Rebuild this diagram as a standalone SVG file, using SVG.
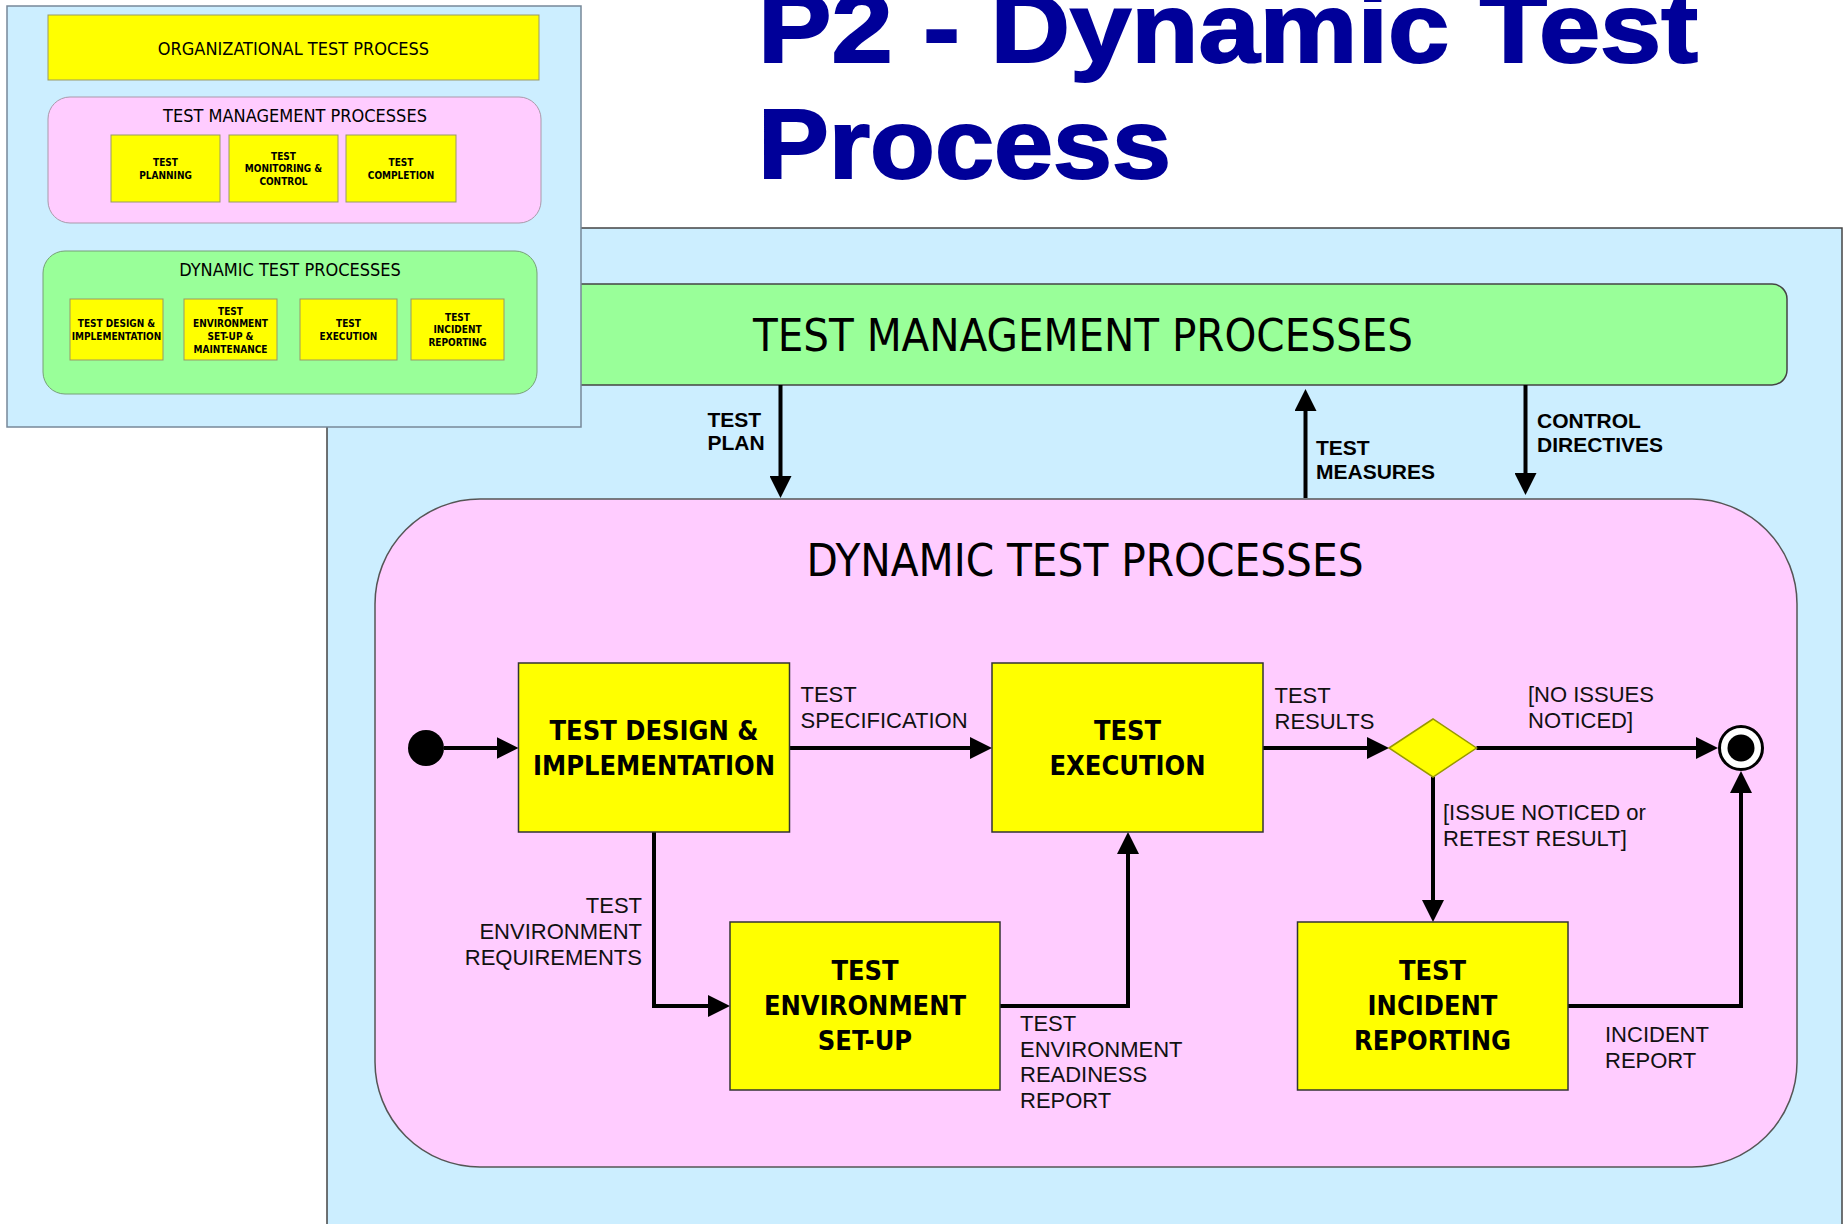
<svg xmlns="http://www.w3.org/2000/svg" width="1847" height="1224" viewBox="0 0 1847 1224">
<style>
.dv{font-family:"DejaVu Sans Condensed","DejaVu Sans",sans-serif;font-stretch:condensed;}
.nt{font-family:"DejaVu Sans Condensed","DejaVu Sans",sans-serif;font-stretch:condensed;font-weight:bold;font-size:27px;text-anchor:middle;fill:#000;}
.st{font-family:"DejaVu Sans Condensed","DejaVu Sans",sans-serif;font-stretch:condensed;font-weight:bold;font-size:10px;text-anchor:middle;fill:#000;}
.lb{font-family:"Liberation Sans",Arial,sans-serif;font-size:22px;fill:#111;}
.lbb{font-family:"Liberation Sans",Arial,sans-serif;font-size:21px;font-weight:bold;fill:#000;}
.box{fill:#ffff00;stroke:#333;stroke-width:1.5;}
.sbox{fill:#ffff00;stroke:#999966;stroke-width:1;}
.conn{fill:none;stroke:#000;stroke-width:4;}
</style>
<defs>
<marker id="ah" markerUnits="userSpaceOnUse" markerWidth="22" markerHeight="22" refX="16" refY="11" orient="auto">
<path d="M0,0 L22,11 L0,22 z" fill="#000"/>
</marker>
</defs>
<rect x="0" y="0" width="1847" height="1224" fill="#ffffff"/>

<g id="title">
<text x="758" y="62" font-family="Liberation Sans, Arial, sans-serif" font-weight="bold" font-size="98" fill="#000099" stroke="#000099" stroke-width="2" textLength="940" lengthAdjust="spacingAndGlyphs">P2 - Dynamic Test</text>
<text x="758" y="178" font-family="Liberation Sans, Arial, sans-serif" font-weight="bold" font-size="98" fill="#000099" stroke="#000099" stroke-width="2" textLength="413" lengthAdjust="spacingAndGlyphs">Process</text>
</g>

<g id="main-panel">
<rect x="327" y="228" width="1515" height="1010" fill="#cceeff" stroke="#444" stroke-width="1.5"/>
</g>

<g id="test-management-processes">
<rect x="520" y="284" width="1267" height="101" rx="15" ry="15" fill="#99ff99" stroke="#444" stroke-width="1.5"/>
<text class="dv" x="1083" y="351" font-size="45" text-anchor="middle" textLength="660" lengthAdjust="spacingAndGlyphs">TEST MANAGEMENT PROCESSES</text>
</g>

<g id="dynamic-test-processes">
<rect x="375" y="499" width="1422" height="668" rx="105" ry="105" fill="#ffccff" stroke="#555" stroke-width="1.5"/>
<text class="dv" x="1085" y="576" font-size="45" text-anchor="middle" textLength="557" lengthAdjust="spacingAndGlyphs">DYNAMIC TEST PROCESSES</text>
</g>

<g id="connectors">
<path class="conn" d="M780.5,385 V492" marker-end="url(#ah)"/>
<path class="conn" d="M1305.5,498 V395" marker-end="url(#ah)"/>
<path class="conn" d="M1525.5,385 V489" marker-end="url(#ah)"/>
<path class="conn" d="M444,748 H512.5" marker-end="url(#ah)"/>
<path class="conn" d="M789.5,748 H986" marker-end="url(#ah)"/>
<path class="conn" d="M1263,748 H1383" marker-end="url(#ah)"/>
<path class="conn" d="M1476.5,748 H1712" marker-end="url(#ah)"/>
<path class="conn" d="M1433,777 V916" marker-end="url(#ah)"/>
<path class="conn" d="M1568,1006 H1741 V777" marker-end="url(#ah)"/>
<path class="conn" d="M654,832 V1006 H724" marker-end="url(#ah)"/>
<path class="conn" d="M1000,1006 H1128 V838" marker-end="url(#ah)"/>
</g>

<g id="labels">
<text class="lbb" x="707.5" y="427">TEST</text>
<text class="lbb" x="707.5" y="450">PLAN</text>
<text class="lbb" x="1316" y="455">TEST</text>
<text class="lbb" x="1316" y="479">MEASURES</text>
<text class="lbb" x="1537" y="428">CONTROL</text>
<text class="lbb" x="1537" y="452">DIRECTIVES</text>
<text class="lb" x="800.5" y="702">TEST</text>
<text class="lb" x="800.5" y="728">SPECIFICATION</text>
<text class="lb" x="1274.5" y="703">TEST</text>
<text class="lb" x="1274.5" y="729">RESULTS</text>
<text class="lb" x="1528" y="702">[NO ISSUES</text>
<text class="lb" x="1528" y="728">NOTICED]</text>
<text class="lb" x="1443" y="820">[ISSUE NOTICED or</text>
<text class="lb" x="1443" y="846">RETEST RESULT]</text>
<text class="lb" x="1605" y="1042">INCIDENT</text>
<text class="lb" x="1605" y="1068">REPORT</text>
<text class="lb" x="642" y="913" text-anchor="end">TEST</text>
<text class="lb" x="642" y="939" text-anchor="end">ENVIRONMENT</text>
<text class="lb" x="642" y="965" text-anchor="end">REQUIREMENTS</text>
<text class="lb" x="1020" y="1031">TEST</text>
<text class="lb" x="1020" y="1057">ENVIRONMENT</text>
<text class="lb" x="1020" y="1082">READINESS</text>
<text class="lb" x="1020" y="1108">REPORT</text>
</g>

<g id="start">
<circle cx="426" cy="748" r="18" fill="#000"/>
</g>

<g id="node-test-design">
<rect class="box" x="518.5" y="663" width="271" height="169"/>
<text class="nt" x="654" y="740">TEST DESIGN &amp;</text>
<text class="nt" x="654" y="775">IMPLEMENTATION</text>
</g>

<g id="node-test-execution">
<rect class="box" x="992" y="663" width="271" height="169"/>
<text class="nt" x="1127.5" y="740">TEST</text>
<text class="nt" x="1127.5" y="775">EXECUTION</text>
</g>

<g id="node-env-setup">
<rect class="box" x="730" y="922" width="270" height="168"/>
<text class="nt" x="865" y="980">TEST</text>
<text class="nt" x="865" y="1015">ENVIRONMENT</text>
<text class="nt" x="865" y="1050">SET-UP</text>
</g>

<g id="node-incident">
<rect class="box" x="1297.5" y="922" width="270.5" height="168"/>
<text class="nt" x="1432.5" y="980">TEST</text>
<text class="nt" x="1432.5" y="1015">INCIDENT</text>
<text class="nt" x="1432.5" y="1050">REPORTING</text>
</g>

<g id="decision">
<polygon points="1389,748 1433,719 1476.5,748 1433,777" fill="#ffff00" stroke="#999900" stroke-width="1.5"/>
</g>

<g id="end">
<circle cx="1741" cy="748" r="21.5" fill="#fff" stroke="#000" stroke-width="3"/>
<circle cx="1741" cy="748" r="13.5" fill="#000"/>
</g>

<g id="inset">
<rect x="7" y="6" width="574" height="421" fill="#cceeff" stroke="#778899" stroke-width="1.5"/>
<g id="inset-org">
<rect class="sbox" x="48" y="15" width="491" height="65"/>
<text class="dv" x="293.5" y="55" font-size="18" text-anchor="middle">ORGANIZATIONAL TEST PROCESS</text>
</g>
<g id="inset-tmp">
<rect x="48" y="97" width="493" height="126" rx="22" ry="22" fill="#ffccff" stroke="#aa99aa" stroke-width="1"/>
<text class="dv" x="295" y="122" font-size="18" text-anchor="middle">TEST MANAGEMENT PROCESSES</text>
<rect class="sbox" x="111" y="135" width="109" height="67"/>
<text class="st" x="165.5" y="166">TEST</text>
<text class="st" x="165.5" y="179">PLANNING</text>
<rect class="sbox" x="229" y="135" width="109" height="67"/>
<text class="st" x="283.5" y="160">TEST</text>
<text class="st" x="283.5" y="172">MONITORING &amp;</text>
<text class="st" x="283.5" y="185">CONTROL</text>
<rect class="sbox" x="346" y="135" width="110" height="67"/>
<text class="st" x="401" y="166">TEST</text>
<text class="st" x="401" y="179">COMPLETION</text>
</g>
<g id="inset-dtp">
<rect x="43" y="251" width="494" height="143" rx="22" ry="22" fill="#99ff99" stroke="#77a077" stroke-width="1"/>
<text class="dv" x="290" y="276" font-size="18" text-anchor="middle">DYNAMIC TEST PROCESSES</text>
<rect class="sbox" x="70" y="299" width="93" height="61"/>
<text class="st" x="116.5" y="327">TEST DESIGN &amp;</text>
<text class="st" x="116.5" y="340">IMPLEMENTATION</text>
<rect class="sbox" x="184" y="299" width="93" height="61"/>
<text class="st" x="230.5" y="315">TEST</text>
<text class="st" x="230.5" y="327">ENVIRONMENT</text>
<text class="st" x="230.5" y="340">SET-UP &amp;</text>
<text class="st" x="230.5" y="353">MAINTENANCE</text>
<rect class="sbox" x="300" y="299" width="97" height="61"/>
<text class="st" x="348.5" y="327">TEST</text>
<text class="st" x="348.5" y="340">EXECUTION</text>
<rect class="sbox" x="411" y="299" width="93" height="61"/>
<text class="st" x="457.5" y="321">TEST</text>
<text class="st" x="457.5" y="333">INCIDENT</text>
<text class="st" x="457.5" y="346">REPORTING</text>
</g>
</g>
</svg>
